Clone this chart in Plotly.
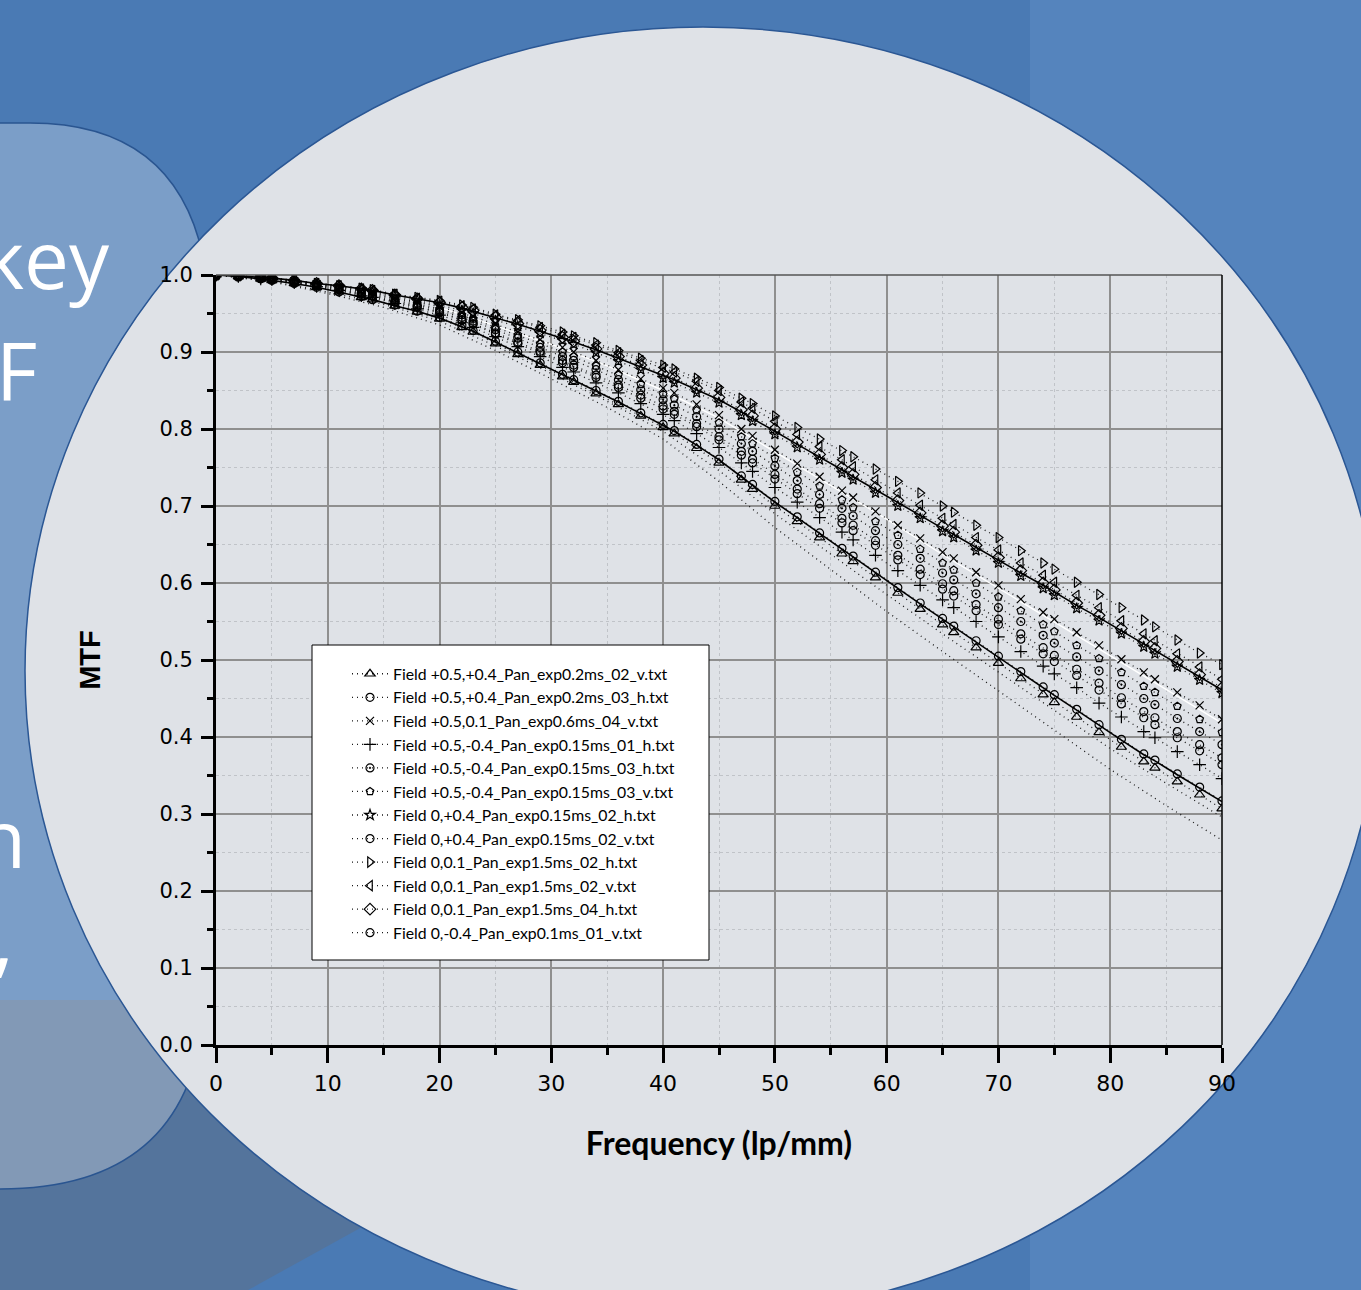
import plotly.graph_objects as go

# ---------------- data ----------------
freq = [0, 2, 4, 5, 7, 9, 11, 13, 14, 16, 18, 20, 22, 23, 25, 27, 29, 31, 32, 34,
        36, 38, 40, 41, 43, 45, 47, 48, 50, 52, 54, 56, 57, 59, 61, 63, 65, 66, 68, 70,
        72, 74, 75, 77, 79, 81, 83, 84, 86, 88, 90]

legend_names = [
    "Field +0.5,+0.4_Pan_exp0.2ms_02_v.txt",
    "Field +0.5,+0.4_Pan_exp0.2ms_03_h.txt",
    "Field +0.5,0.1_Pan_exp0.6ms_04_v.txt",
    "Field +0.5,-0.4_Pan_exp0.15ms_01_h.txt",
    "Field +0.5,-0.4_Pan_exp0.15ms_03_h.txt",
    "Field +0.5,-0.4_Pan_exp0.15ms_03_v.txt",
    "Field 0,+0.4_Pan_exp0.15ms_02_h.txt",
    "Field 0,+0.4_Pan_exp0.15ms_02_v.txt",
    "Field 0,0.1_Pan_exp1.5ms_02_h.txt",
    "Field 0,0.1_Pan_exp1.5ms_02_v.txt",
    "Field 0,0.1_Pan_exp1.5ms_04_h.txt",
    "Field 0,-0.4_Pan_exp0.1ms_01_v.txt",
]

mtf_p05_p04_02_v = [1.000, .998, .995, .993, .989, .984, .978, .971, .968, .960, .952, .943, .932, .926, .911,
                    .897, .883, .868, .861, .846, .832, .817, .802, .794, .775, .756, .734, .722, .700, .680,
                    .659, .638, .628, .607, .587, .566, .546, .536, .516, .496, .476, .455, .445, .426, .406,
                    .387, .368, .360, .342, .325, .307]
mtf_p05_p04_03_h = [1.000, .998, .995, .993, .989, .984, .978, .972, .968, .961, .953, .945, .934, .928, .914,
                    .900, .886, .871, .864, .850, .836, .821, .806, .798, .780, .761, .739, .728, .706, .686,
                    .665, .645, .635, .614, .594, .574, .554, .544, .525, .505, .485, .465, .455, .436, .416,
                    .397, .378, .370, .352, .335, .317]
mtf_p05_01_04_v = [1.000, .999, .996, .995, .992, .988, .984, .979, .977, .970, .965, .959, .951, .946, .936,
                   .926, .916, .906, .900, .889, .877, .865, .853, .847, .832, .818, .800, .791, .773, .755,
                   .738, .720, .711, .693, .675, .658, .640, .632, .614, .597, .579, .562, .553, .536, .519,
                   .501, .484, .475, .458, .441, .423]
mtf_p05_m04_01_h = [1.000, .998, .995, .994, .990, .985, .980, .973, .971, .963, .956, .948, .938, .932, .920,
                    .907, .894, .880, .874, .860, .847, .833, .819, .811, .794, .776, .756, .745, .724, .705,
                    .685, .666, .656, .636, .616, .597, .578, .568, .550, .530, .511, .492, .482, .464, .444,
                    .426, .407, .399, .381, .364, .346]
mtf_p05_m04_03_h = [1.000, .999, .996, .995, .991, .987, .982, .977, .974, .967, .961, .954, .945, .940, .929,
                    .918, .906, .894, .889, .877, .864, .851, .838, .831, .816, .800, .781, .771, .752, .733,
                    .715, .697, .687, .668, .650, .632, .613, .604, .586, .568, .550, .532, .522, .504, .486,
                    .468, .450, .442, .424, .407, .390]
mtf_p05_m04_03_v = [1.000, .999, .996, .995, .991, .987, .983, .978, .975, .969, .963, .956, .948, .943, .932,
                    .922, .911, .900, .894, .882, .870, .858, .845, .839, .824, .808, .790, .781, .762, .744,
                    .726, .708, .698, .680, .662, .644, .626, .617, .600, .582, .564, .546, .537, .519, .502,
                    .484, .466, .458, .440, .423, .406]
mtf_0_p04_02_h = [1.000, .999, .997, .995, .992, .988, .985, .981, .978, .972, .967, .961, .954, .950, .941,
                  .933, .924, .915, .910, .899, .888, .877, .866, .860, .847, .834, .818, .810, .793, .776,
                  .760, .743, .734, .717, .700, .684, .667, .659, .642, .626, .609, .593, .584, .567, .551,
                  .534, .517, .508, .491, .474, .457]
mtf_0_p04_02_v = [1.000, .998, .996, .994, .991, .986, .981, .975, .973, .965, .959, .952, .942, .937, .925,
                  .913, .901, .889, .883, .870, .857, .844, .830, .823, .807, .790, .771, .761, .741, .722,
                  .703, .684, .675, .655, .636, .618, .599, .590, .572, .553, .534, .516, .506, .488, .470,
                  .451, .433, .425, .407, .390, .373]
mtf_0_01_02_h = [1.000, .999, .997, .996, .993, .989, .986, .983, .981, .975, .971, .967, .961, .958, .949,
                 .942, .934, .926, .921, .912, .902, .892, .883, .878, .866, .854, .840, .833, .817, .802,
                 .787, .772, .764, .748, .732, .717, .700, .692, .675, .659, .642, .626, .618, .601, .585,
                 .568, .552, .543, .526, .509, .494]
mtf_0_01_02_v = [1.000, .999, .997, .996, .993, .989, .986, .982, .980, .975, .970, .966, .960, .956, .948,
                 .941, .932, .923, .919, .909, .899, .889, .880, .874, .862, .850, .835, .827, .810, .793,
                 .777, .760, .751, .734, .717, .701, .684, .676, .659, .643, .626, .610, .601, .584, .568,
                 .551, .534, .525, .508, .491, .475]
mtf_0_01_04_h = [1.000, .999, .997, .996, .993, .989, .986, .982, .980, .974, .969, .964, .958, .954, .945,
                 .937, .928, .919, .914, .904, .894, .883, .872, .866, .853, .841, .825, .817, .800, .783,
                 .767, .750, .741, .724, .707, .691, .674, .666, .649, .633, .616, .600, .591, .574, .558,
                 .541, .524, .515, .498, .481, .464]
mtf_0_m04_01_v = [1.000, .998, .996, .994, .990, .986, .981, .975, .972, .965, .958, .951, .941, .936, .923,
                  .911, .899, .886, .880, .867, .854, .840, .826, .819, .803, .786, .766, .756, .735, .716,
                  .697, .678, .668, .649, .630, .611, .592, .583, .564, .546, .527, .508, .498, .480, .461,
                  .443, .425, .416, .399, .382, .364]

# solid envelope curves
upper_env = [1.000, .999, .997, .996, .993, .989, .986, .982, .980, .974, .969, .964, .957, .953, .944,
             .936, .927, .918, .913, .903, .892, .881, .870, .864, .851, .838, .822, .814, .797, .780,
             .764, .747, .738, .721, .704, .688, .671, .663, .646, .630, .613, .597, .588, .571, .555,
             .538, .521, .512, .495, .478, .461]
lower_env = [1.000, .998, .995, .993, .989, .984, .978, .971, .968, .960, .953, .944, .933, .927, .913,
             .899, .885, .870, .863, .849, .835, .820, .805, .797, .779, .760, .738, .727, .705, .685,
             .664, .644, .634, .613, .593, .573, .553, .543, .524, .504, .484, .464, .454, .435, .415,
             .396, .377, .369, .351, .334, .316]

# extra dotted curves without markers (below the lower envelope)
freq_step5 = [0, 5, 10, 15, 20, 25, 30, 35, 40, 45, 50, 55, 60, 65, 70, 75, 80, 85, 90]
extra_low1 = [1.0, .992, .978, .962, .940, .908, .872, .836, .797, .746, .690, .637, .585, .534, .484, .434, .385, .340, .296]
extra_low2 = [1.0, .991, .976, .958, .935, .902, .865, .828, .787, .732, .672, .617, .563, .511, .460, .409, .358, .311, .266]

# thin white curve in the middle band
freq_white = [20, 25, 30, 35, 40, 45, 50, 55, 60, 65, 70, 75, 80, 85, 90]
white_curve = [.958, .934, .910, .882, .850, .814, .770, .727, .683, .637, .593, .550, .506, .462, .418]

x_ticks = [0, 10, 20, 30, 40, 50, 60, 70, 80, 90]
y_ticks = [0.0, 0.1, 0.2, 0.3, 0.4, 0.5, 0.6, 0.7, 0.8, 0.9, 1.0]

series = [
    mtf_p05_p04_02_v, mtf_p05_p04_03_h, mtf_p05_01_04_v, mtf_p05_m04_01_h,
    mtf_p05_m04_03_h, mtf_p05_m04_03_v, mtf_0_p04_02_h, mtf_0_p04_02_v,
    mtf_0_01_02_h, mtf_0_01_02_v, mtf_0_01_04_h, mtf_0_m04_01_v,
]
symbols = ["triangle-up-open", "circle-open", "x-thin-open", "cross-thin-open",
           "circle-open-dot", "pentagon-open", "star-open", "circle-open",
           "triangle-right-open", "triangle-left-open", "diamond-open", "circle-open"]
sizes = [9, 8, 8, 9, 8, 8, 8, 8, 9, 9, 9, 8]

# ---------------- geometry helpers (pixel -> paper) ----------------
W, H = 1361, 1290
L_PX, R_PX, T_PX, B_PX = 216, 1222, 275, 1045


def px(x):
    return (x - L_PX) / (R_PX - L_PX)


def py(y):
    return (B_PX - y) / (B_PX - T_PX)


DOT = "1px,4px"

fig = go.Figure()

# extra plain dotted curves
for ys in (extra_low1, extra_low2):
    fig.add_trace(go.Scatter(x=freq_step5, y=ys, mode="lines",
                             line=dict(color="#1a1a1a", width=1.3, dash=DOT),
                             showlegend=False, hoverinfo="skip"))

# white curve
fig.add_trace(go.Scatter(x=freq_white, y=white_curve, mode="lines",
                         line=dict(color="white", width=1.4), showlegend=False, hoverinfo="skip"))

# 12 measured series
for i, (name, ys) in enumerate(zip(legend_names, series)):
    fig.add_trace(go.Scatter(
        x=freq, y=ys, name=name, mode="lines+markers", legendgroup=f"g{i}",
        line=dict(color="#1a1a1a", width=1.3, dash=DOT),
        marker=dict(symbol=symbols[i], size=sizes[i], color="black",
                    line=dict(color="black", width=1.2)),
    ))

# solid envelopes
for ys in (upper_env, lower_env):
    fig.add_trace(go.Scatter(x=freq, y=ys, mode="lines",
                             line=dict(color="black", width=1.6),
                             showlegend=False, hoverinfo="skip"))

# ---------------- background shapes ----------------
shapes = []
# lighter right strip of the slide
shapes.append(dict(type="rect", xref="paper", yref="paper", layer="below",
                   x0=px(1030), x1=px(1400), y0=py(1300), y1=py(-10),
                   fillcolor="#5584bd", line=dict(width=0)))
# darker lower-left band
shapes.append(dict(type="path", xref="paper", yref="paper", layer="below",
                   path=(f"M {px(-20)},{py(1000)} L {px(420)},{py(1000)} L {px(420)},{py(1195)} "
                         f"L {px(230)},{py(1300)} L {px(-20)},{py(1300)} Z"),
                   fillcolor="#54749c", line=dict(width=0)))
# translucent left bubble
shapes.append(dict(type="path", xref="paper", yref="paper", layer="below",
                   path=(f"M {px(-300)},{py(123)} L {px(30)},{py(123)} "
                         f"Q {px(210)},{py(123)} {px(210)},{py(330)} "
                         f"L {px(205)},{py(1000)} Q {px(195)},{py(1189)} {px(0)},{py(1189)} "
                         f"L {px(-300)},{py(1189)} Z"),
                   fillcolor="rgba(255,255,255,0.27)", line=dict(color="#2a5590", width=1.5)))
# large light ellipse
cx, cy, rx, ry = 703, 671, 678, 644
shapes.append(dict(type="circle", xref="paper", yref="paper", layer="below",
                   x0=px(cx - rx), x1=px(cx + rx), y0=py(cy + ry), y1=py(cy - ry),
                   fillcolor="#dfe2e7", line=dict(color="#2b5794", width=1.5)))
# frame top / right
shapes.append(dict(type="line", xref="paper", yref="paper", layer="above",
                   x0=0, x1=1, y0=1, y1=1, line=dict(color="#555555", width=1.5)))
shapes.append(dict(type="line", xref="paper", yref="paper", layer="above",
                   x0=1, x1=1, y0=0, y1=1, line=dict(color="black", width=1.5)))
# legend box
shapes.append(dict(type="rect", xref="paper", yref="paper", layer="above",
                   x0=px(312), x1=px(709), y0=py(960), y1=py(645),
                   fillcolor="white", line=dict(color="black", width=1)))

# ---------------- slide text fragments ----------------
txt_font = dict(family="Open Sans", size=80, color="white")
annotations = [
    dict(text="key", x=px(112), y=py(257), xanchor="right", yanchor="middle"),
    dict(text="F", x=px(-6), y=py(369), xanchor="left", yanchor="middle"),
    dict(text="n", x=px(28), y=py(836), xanchor="right", yanchor="middle"),
    dict(text=",", x=px(16), y=py(936), xanchor="right", yanchor="middle"),
]
for a in annotations:
    a.update(xref="paper", yref="paper", showarrow=False, font=txt_font)

tick_font = dict(family="DejaVu Sans", color="black")

fig.update_layout(
    width=W, height=H,
    margin=dict(l=L_PX, r=W - R_PX, t=T_PX, b=H - B_PX, autoexpand=False),
    paper_bgcolor="#4a7ab4",
    plot_bgcolor="rgba(0,0,0,0)",
    shapes=shapes,
    annotations=annotations,
    showlegend=True,
    legend=dict(x=px(347), y=py(657), xanchor="left", yanchor="top",
                bgcolor="rgba(0,0,0,0)", borderwidth=0, itemwidth=36,
                tracegroupgap=0, font=dict(family="Lato", size=15.8, color="black")),
    xaxis=dict(range=[0, 90], tickvals=x_ticks, ticktext=[str(v) for v in x_ticks],
               showline=True, linewidth=3, linecolor="black",
               ticks="outside", ticklen=15, tickwidth=3, tickcolor="black",
               showgrid=True, gridcolor="#8f8f8f", gridwidth=1.5, zeroline=False,
               tickfont=dict(size=22, **tick_font), ticklabelstandoff=2,
               minor=dict(dtick=5, tick0=0, ticks="outside", ticklen=7, tickwidth=3, tickcolor="black",
                          showgrid=True, gridcolor="#c0c3c8", griddash="dot", gridwidth=1),
               title=dict(text="Frequency (lp/mm)", standoff=38,
                          font=dict(family="Lato", size=32, color="black", weight="bold"))),
    yaxis=dict(range=[0, 1], tickvals=y_ticks, ticktext=[f"{v:.1f}" for v in y_ticks],
               showline=True, linewidth=3, linecolor="black",
               ticks="outside", ticklen=12, tickwidth=3, tickcolor="black",
               showgrid=True, gridcolor="#8f8f8f", gridwidth=1.5, zeroline=False,
               tickfont=dict(size=21, **tick_font), ticklabelstandoff=4,
               minor=dict(dtick=0.05, tick0=0, ticks="outside", ticklen=6, tickwidth=3, tickcolor="black",
                          showgrid=True, gridcolor="#c0c3c8", griddash="dot", gridwidth=1),
               title=dict(text="MTF", standoff=51,
                          font=dict(family="Liberation Sans Narrow, Liberation Sans", size=29,
                                    color="black", weight="bold"))),
)

fig.write_html("out.html", config={"displayModeBar": False},
               post_script="document.body.style.margin='0';")
